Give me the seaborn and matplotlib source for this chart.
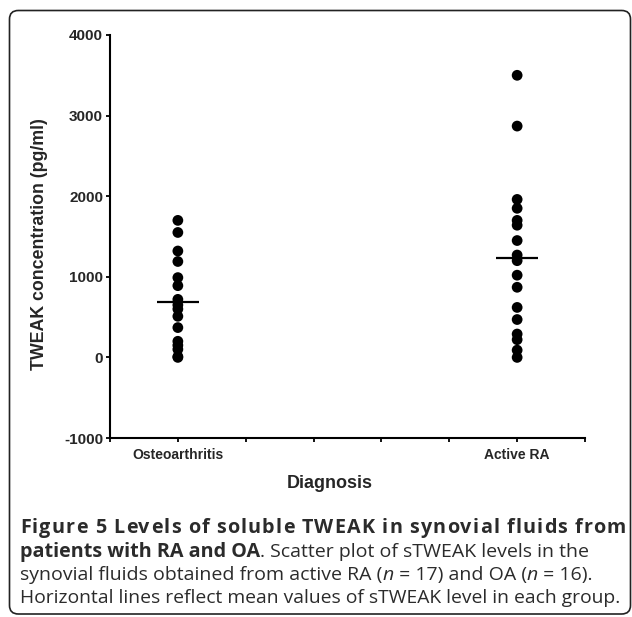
import numpy as np
import pandas as pd
import matplotlib
matplotlib.use("Agg")
import matplotlib.pyplot as plt
from matplotlib.patches import FancyBboxPatch
import seaborn as sns

# values (pg/ml)
oa_values = [1700, 1550, 1320, 1190, 990, 890, 720, 650, 600, 510, 370, 200, 150, 100, 10, 0]
ra_values = [3500, 2870, 1960, 1850, 1700, 1640, 1450, 1270, 1200, 1020, 870, 620, 470, 290, 220, 90, 0]
groups = ["Osteoarthritis", "Active RA"]
y_ticks = [-1000, 0, 1000, 2000, 3000, 4000]

df = pd.DataFrame({
    "group": ["Osteoarthritis"] * len(oa_values) + ["Active RA"] * len(ra_values),
    "value": oa_values + ra_values,
})
group_pos = {"Osteoarthritis": 1, "Active RA": 6}
df["pos"] = df["group"].map(group_pos)

sns.set_theme(style="ticks")
plt.rcParams["font.family"] = ["Liberation Sans", "DejaVu Sans"]

fig = plt.figure(figsize=(6.32, 6.17), dpi=100)
ax = fig.add_axes([110 / 632, 1 - 438 / 617, 475 / 632, 403 / 617])

sns.scatterplot(data=df, x="pos", y="value", color="black", s=60,
                edgecolor="none", ax=ax, legend=False, zorder=3)

# mean lines
for g, pos in group_pos.items():
    m = df.loc[df["group"] == g, "value"].mean()
    ax.hlines(m, pos - 0.31, pos + 0.31, color="black", lw=1.6, zorder=4)

ax.set_xlim(0, 7)
ax.set_ylim(-1000, 4000)
ax.set_xticks(range(8))
ax.set_xticklabels(["", groups[0], "", "", "", "", groups[1], ""],
                   fontsize=10, fontweight="bold")
ax.set_yticks(y_ticks)
ax.set_yticklabels([str(t) for t in y_ticks], fontsize=11, fontweight="bold")
ax.tick_params(axis="both", length=3, width=1.3, color="black", pad=2)
ax.tick_params(axis="x", pad=4)
for side in ["top", "right"]:
    ax.spines[side].set_visible(False)
for side in ["left", "bottom"]:
    ax.spines[side].set_linewidth(1.5)
    ax.spines[side].set_color("black")

ax.set_ylabel("TWEAK concentration (pg/ml)", fontsize=12.8, fontweight="bold")
ax.yaxis.label.set_va("center")
ax.yaxis.set_label_coords(-0.149, 0.48)
ax.set_xlabel("Diagnosis", fontsize=13, fontweight="bold")
ax.xaxis.label.set_va("center")
ax.xaxis.set_label_coords(0.463, -0.114)

# rounded frame
frame = FancyBboxPatch((9.5 / 632, 3 / 617), 621 / 632, 603.5 / 617,
                       boxstyle="round,pad=0,rounding_size=0.014",
                       transform=fig.transFigure, fill=False,
                       edgecolor="#222222", lw=1.2)
fig.add_artist(frame)

# caption, drawn as runs of text
cap_font = ["Open Sans", "DejaVu Sans"]
cap_color = "#2b2b2b"
fig.canvas.draw()
renderer = fig.canvas.get_renderer()


def make_text(txt, size, weight, style):
    return fig.text(0, 0, txt, fontsize=size, fontweight=weight, fontstyle=style,
                    family=cap_font, color=cap_color, va="center", ha="left")


def width_of(t):
    return t.get_window_extent(renderer).width


def draw_runs(runs, x_px, y_px):
    """runs: list of (text, size, weight, style); y_px is the line centre from top."""
    x = x_px
    for txt, size, weight, style in runs:
        t = make_text(txt, size, weight, style)
        w = width_of(t)
        t.set_position((x / 632, 1 - y_px / 617))
        x += w


def draw_spaced(line, size, x_px, y_px, x_end):
    """bold line stretched to x_end by letter spacing."""
    pair = make_text("aa", size, "bold", "normal")
    spaced = make_text("a a", size, "bold", "normal")
    space_w = width_of(spaced) - width_of(pair)
    pair.remove()
    spaced.remove()
    items = []
    for ch in line:
        if ch == " ":
            items.append((None, space_w))
        else:
            t = make_text(ch, size, "bold", "normal")
            items.append((t, width_of(t)))
    natural = sum(w for _, w in items)
    extra = (x_end - x_px - natural) / (len(items) - 1)
    x = x_px
    for t, w in items:
        if t is not None:
            t.set_position((x / 632, 1 - y_px / 617))
        x += w + extra


draw_spaced("Figure 5 Levels of soluble TWEAK in synovial fluids from", 14.2, 20, 528, 626)
draw_runs([("patients with RA and OA", 14.2, "bold", "normal"),
           (". Scatter plot of sTWEAK levels in the", 14.0, "normal", "normal")], 20, 552)
draw_runs([("synovial fluids obtained from active RA (", 14.0, "normal", "normal"),
           ("n", 14.0, "normal", "italic"),
           (" = 17) and OA (", 14.0, "normal", "normal"),
           ("n", 14.0, "normal", "italic"),
           (" = 16).", 14.0, "normal", "normal")], 20, 575)
draw_runs([("Horizontal lines reflect mean values of sTWEAK level in each group.",
            13.9, "normal", "normal")], 20, 598)

fig.savefig("out.png", dpi=100)
